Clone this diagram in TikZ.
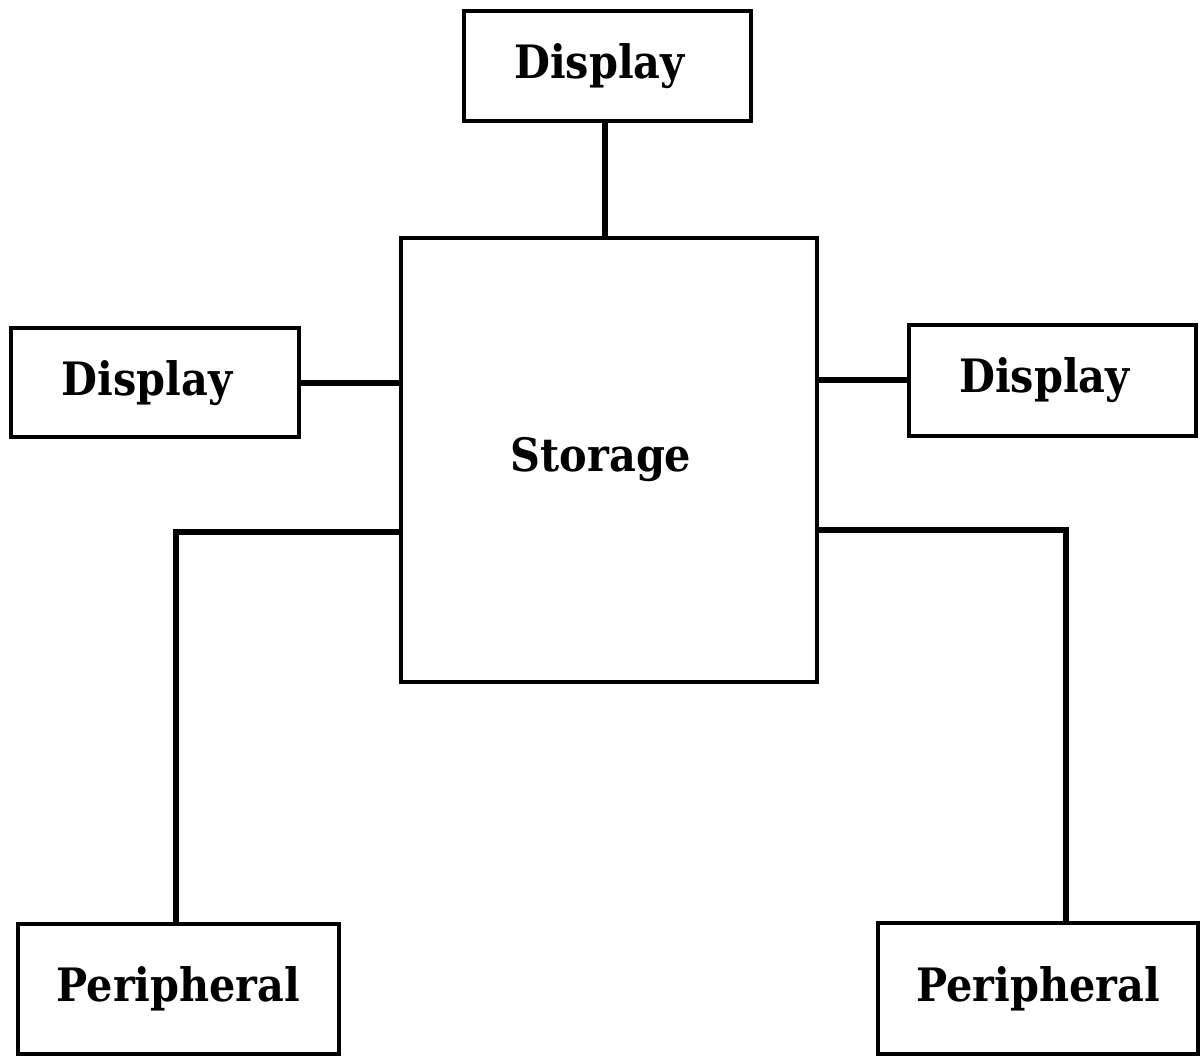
\documentclass[tikz,border=0pt]{standalone}
\usepackage{fontspec}
\setmainfont{DejaVu Serif Condensed}
\tikzset{
  unitbox/.style={draw, line width=2pt, rectangle, inner sep=0pt,
                  font=\fontsize{23}{27}\selectfont\bfseries},
  % labels sit a little left of the box centre
  leftlabel/.style={execute at end node={\hspace*{8pt}}},
  link/.style={line width=3pt}
}
\begin{document}
\begin{tikzpicture}[x=0.5pt, y=-0.5pt]
  \useasboundingbox (0,0) rectangle (1201,1059);

  % central store (sizes in pt, half the coordinate units)
  \node[unitbox, leftlabel, minimum width=208pt, minimum height=222pt] (stor) at (609,460) {Storage};

  % displays
  \node[unitbox, leftlabel, minimum width=143.5pt, minimum height=55pt] (topd) at (607.5,66) {Display};
  \node[unitbox, leftlabel, minimum width=144pt, minimum height=54.5pt] (leftd) at (155,383) {Display};
  \node[unitbox, leftlabel, minimum width=143.5pt, minimum height=55.5pt] (rightd) at (1052.5,380.5) {Display};

  % peripherals
  \node[unitbox, minimum width=160.5pt, minimum height=65pt] (leftp) at (178.5,989) {Peripheral};
  \node[unitbox, minimum width=160pt, minimum height=65.5pt] (rightp) at (1038,988.5) {Peripheral};

  % connections
  \draw[link] (topd.south -| 605,0) -- (stor.north -| 605,0);
  \draw[link] (leftd.east) -- (leftd.east -| stor.west);
  \draw[link] (rightd.west) -- (rightd.west -| stor.east);
  \draw[link] (stor.west |- 0,532) -| (leftp.north -| 176,0);
  \draw[link] (stor.east |- 0,530) -| (rightp.north -| 1066,0);
\end{tikzpicture}
\end{document}
